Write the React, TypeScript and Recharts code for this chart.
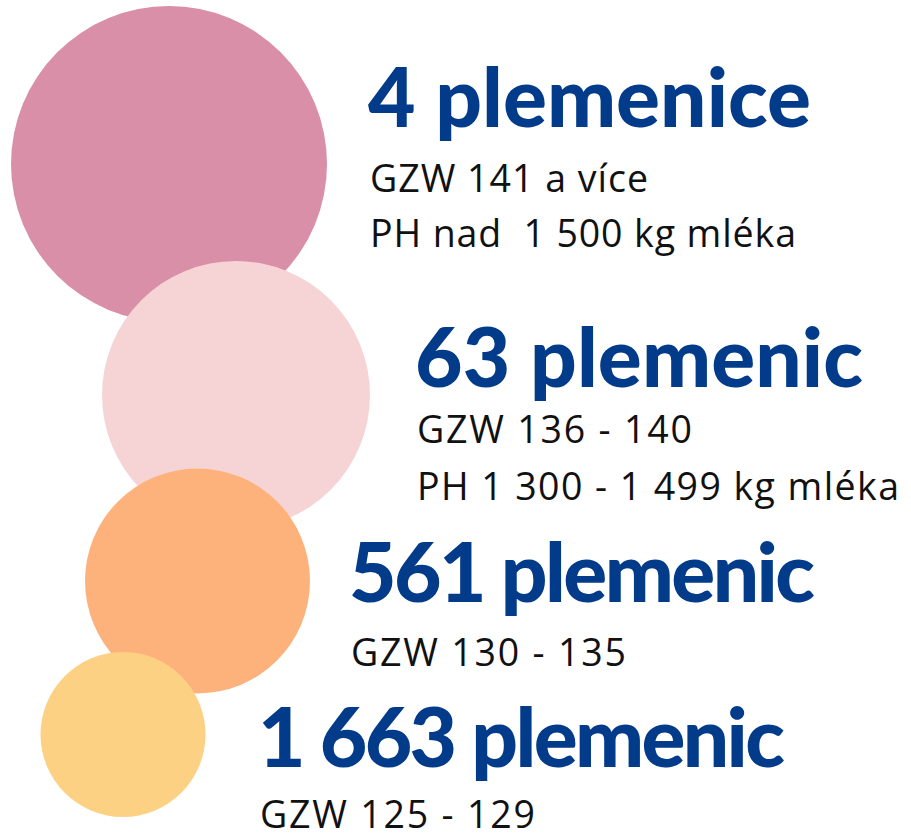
import React from 'react';
import { ScatterChart, Scatter, XAxis, YAxis, ZAxis } from 'recharts';

// ---- data ----
const countLabels = ['4 plemenice', '63 plemenic', '561 plemenic', '1 663 plemenic'];
const gzwLabels = ['GZW 141 a více', 'GZW 136 - 140', 'GZW 130 - 135', 'GZW 125 - 129'];
const phLabels = ['PH nad  1 500 kg mléka', 'PH 1 300 - 1 499 kg mléka', '', ''];
const bubbleX = [169, 236, 197.5, 123];
const bubbleY = [164, 395, 581, 734.5];
const bubbleR = [158, 134, 112.5, 82.5];

// ---- styles / layout ----
const COLORS = ['#D88FA7', '#F6D4D5', '#FEB27B', '#FDD183'];
const TITLE_COLOR = '#023B8A';
const TEXT_COLOR = '#111111';
const LABEL_DX = [199, 179, 151.5, 135];
const LABEL_DY = [-37, -8, 21, 32.5];
const LINE1_GAP = [65, 56, 64, 61];
const LINE2_GAP = [55, 57, 0, 0];
const TITLE_LEN = [443, 448, 466, 527];
const GZW_LEN = [278, 275, 275, 275];
const PH_LEN = [426, 482, 0, 0];

const W = 911;
const H = 836;

const data = bubbleX.map((x, i) => ({
  x,
  y: bubbleY[i],
  area: Math.PI * bubbleR[i] * bubbleR[i],
  idx: i,
  title: countLabels[i],
  gzw: gzwLabels[i],
  ph: phLabels[i],
}));
const maxArea = Math.max(...data.map((d) => d.area));

const BubbleShape = (props: any) => {
  const { cx, cy, width, payload } = props;
  const i = payload.idx;
  const r = width / 2;
  const tx = cx + LABEL_DX[i];
  const ty = cy + LABEL_DY[i];
  return (
    <g>
      <circle cx={cx} cy={cy} r={r} fill={COLORS[i]} />
      <text
        x={tx}
        y={ty}
        fill={TITLE_COLOR}
        fontFamily="Lato, sans-serif"
        fontWeight={900}
        fontSize={82}
        textLength={TITLE_LEN[i]}
        lengthAdjust="spacing"
        style={{ whiteSpace: 'pre' }}
      >
        {payload.title}
      </text>
      <text
        x={tx + 2}
        y={ty + LINE1_GAP[i]}
        fill={TEXT_COLOR}
        fontFamily="'Open Sans', sans-serif"
        fontWeight={400}
        fontSize={37.5}
        textLength={GZW_LEN[i]}
        lengthAdjust="spacing"
        style={{ whiteSpace: 'pre' }}
      >
        {payload.gzw}
      </text>
      {payload.ph ? (
        <text
          x={tx + 2}
          y={ty + LINE1_GAP[i] + LINE2_GAP[i]}
          fill={TEXT_COLOR}
          fontFamily="'Open Sans', sans-serif"
          fontWeight={400}
          fontSize={37.5}
          textLength={PH_LEN[i]}
          lengthAdjust="spacing"
          style={{ whiteSpace: 'pre' }}
        >
          {payload.ph}
        </text>
      ) : null}
    </g>
  );
};

export default function App() {
  return (
    <div style={{ position: 'absolute', left: 0, top: 0, width: W, height: H, background: '#fff' }}>
      <ScatterChart width={W} height={H} margin={{ top: 0, right: 0, bottom: 0, left: 0 }}>
        <XAxis type="number" dataKey="x" domain={[0, W]} hide allowDataOverflow />
        <YAxis type="number" dataKey="y" domain={[0, H]} reversed hide allowDataOverflow />
        <ZAxis type="number" dataKey="area" domain={[0, maxArea]} range={[0, maxArea]} />
        <Scatter data={data} isAnimationActive={false} shape={BubbleShape} />
      </ScatterChart>
    </div>
  );
}
